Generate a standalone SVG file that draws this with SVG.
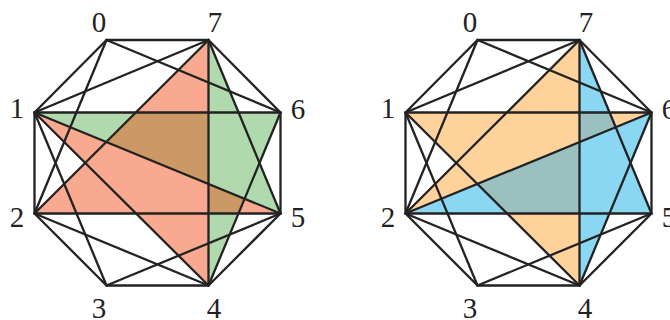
<svg xmlns="http://www.w3.org/2000/svg" width="670" height="320" viewBox="0 0 670 320">
<style>
.e{stroke:#222;stroke-width:2.3;fill:none;stroke-linecap:round;stroke-linejoin:round}
.lb{font-family:"Liberation Serif","DejaVu Serif",serif;font-size:29px;fill:#222;text-anchor:middle}
</style>
<defs>
<clipPath id="cRed"><path d="M208.5 40 L34.5 213.5 L280.5 213.5 L34.5 112.5 L208.5 285.5 Z"/></clipPath>
<clipPath id="cOrange"><path d="M579.5 40 L405.5 213.5 L651.5 112.5 L405.5 112.5 L579.5 285.5 Z"/></clipPath>
</defs>
<rect width="670" height="320" fill="#fff"/>
<g id="fills">
<path fill="#F8A98F" d="M208.5 40 L34.5 213.5 L280.5 213.5 L34.5 112.5 L208.5 285.5 Z"/>
<path fill="#B0D9AD" d="M208.5 40 L208.5 285.5 L280.5 112.5 L34.5 112.5 L280.5 213.5 Z"/>
<path fill="#CC9966" clip-path="url(#cRed)" d="M208.5 40 L208.5 285.5 L280.5 112.5 L34.5 112.5 L280.5 213.5 Z"/>
<path fill="#FFD29C" d="M579.5 40 L405.5 213.5 L651.5 112.5 L405.5 112.5 L579.5 285.5 Z"/>
<path fill="#8AD7F4" d="M579.5 40 L579.5 285.5 L651.5 112.5 L405.5 213.5 L651.5 213.5 Z"/>
<path fill="#9BC0C0" clip-path="url(#cOrange)" d="M579.5 40 L579.5 285.5 L651.5 112.5 L405.5 213.5 L651.5 213.5 Z"/>
</g>
<g id="connectors" class="e">
<polygon points="106.5,40 208.5,40 280.5,112.5 280.5,213.5 208.5,285.5 106.5,285.5 34.5,213.5 34.5,112.5"/>
<line x1="106.5" y1="40" x2="280.5" y2="112.5"/>
<line x1="106.5" y1="40" x2="34.5" y2="213.5"/>
<line x1="208.5" y1="40" x2="34.5" y2="112.5"/>
<line x1="208.5" y1="40" x2="280.5" y2="213.5"/>
<line x1="208.5" y1="40" x2="208.5" y2="285.5"/>
<line x1="208.5" y1="40" x2="34.5" y2="213.5"/>
<line x1="34.5" y1="112.5" x2="280.5" y2="112.5"/>
<line x1="34.5" y1="112.5" x2="280.5" y2="213.5"/>
<line x1="34.5" y1="112.5" x2="208.5" y2="285.5"/>
<line x1="34.5" y1="112.5" x2="106.5" y2="285.5"/>
<line x1="34.5" y1="213.5" x2="280.5" y2="213.5"/>
<line x1="34.5" y1="213.5" x2="208.5" y2="285.5"/>
<line x1="106.5" y1="285.5" x2="280.5" y2="213.5"/>
<line x1="208.5" y1="285.5" x2="280.5" y2="112.5"/>

<polygon points="477.5,40 579.5,40 651.5,112.5 651.5,213.5 579.5,285.5 477.5,285.5 405.5,213.5 405.5,112.5"/>
<line x1="477.5" y1="40" x2="651.5" y2="112.5"/>
<line x1="477.5" y1="40" x2="405.5" y2="213.5"/>
<line x1="579.5" y1="40" x2="405.5" y2="112.5"/>
<line x1="579.5" y1="40" x2="651.5" y2="213.5"/>
<line x1="579.5" y1="40" x2="579.5" y2="285.5"/>
<line x1="579.5" y1="40" x2="405.5" y2="213.5"/>
<line x1="405.5" y1="112.5" x2="651.5" y2="112.5"/>
<line x1="405.5" y1="112.5" x2="579.5" y2="285.5"/>
<line x1="405.5" y1="112.5" x2="477.5" y2="285.5"/>
<line x1="405.5" y1="213.5" x2="651.5" y2="112.5"/>
<line x1="405.5" y1="213.5" x2="651.5" y2="213.5"/>
<line x1="405.5" y1="213.5" x2="579.5" y2="285.5"/>
<line x1="477.5" y1="285.5" x2="651.5" y2="213.5"/>
<line x1="579.5" y1="285.5" x2="651.5" y2="112.5"/>
</g>
<g id="L0"><text class="lb" x="99" y="32">0</text></g>
<g id="L7"><text class="lb" x="215" y="32">7</text></g>
<g id="L6"><text class="lb" x="298" y="119">6</text></g>
<g id="L5"><text class="lb" x="298" y="226.5">5</text></g>
<g id="L4"><text class="lb" x="214" y="318">4</text></g>
<g id="L3"><text class="lb" x="99" y="318">3</text></g>
<g id="L2"><text class="lb" x="17" y="226.5">2</text></g>
<g id="L1"><text class="lb" x="17" y="118">1</text></g>
<g id="R0"><text class="lb" x="470" y="32">0</text></g>
<g id="R7"><text class="lb" x="586" y="32">7</text></g>
<g id="R6"><text class="lb" x="669" y="119">6</text></g>
<g id="R5"><text class="lb" x="669" y="226.5">5</text></g>
<g id="R4"><text class="lb" x="585" y="318">4</text></g>
<g id="R3"><text class="lb" x="470" y="318">3</text></g>
<g id="R2"><text class="lb" x="388" y="226.5">2</text></g>
<g id="R1"><text class="lb" x="388" y="118">1</text></g>
</svg>
